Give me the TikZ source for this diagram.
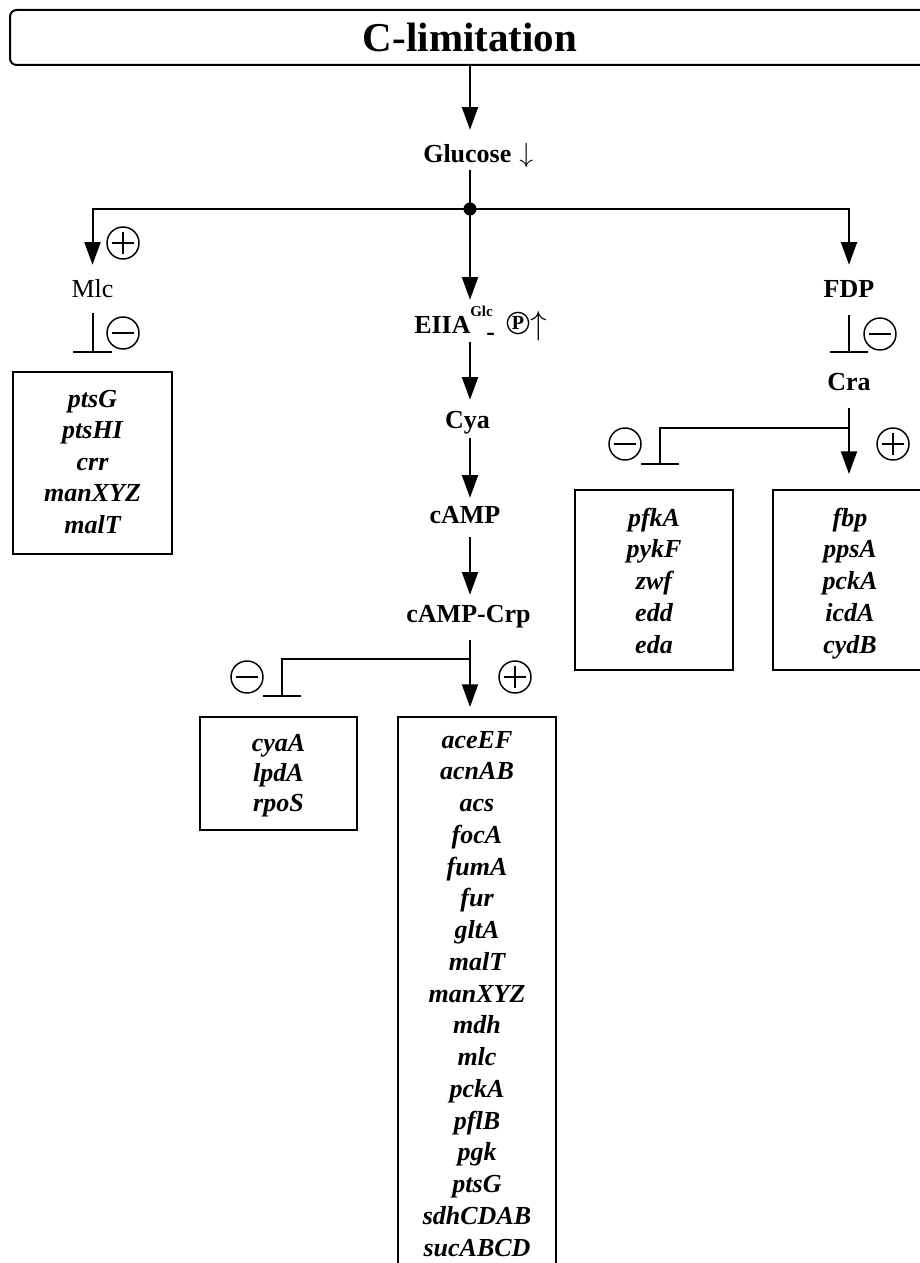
\documentclass[tikz,border=0pt]{standalone}
\usepackage{fontspec}
\setmainfont{Liberation Serif}
\usetikzlibrary{arrows.meta}
\newcommand\lblfont{\fontsize{19.5}{23}\selectfont\bfseries}
\newcommand\regfont{\fontsize{19.5}{23}\selectfont}
\newcommand\genefont{\fontsize{19.5}{23}\selectfont\bfseries\itshape}
\newcommand\ttlfont{\fontsize{30.75}{36}\selectfont\bfseries}
\tikzset{
  ln/.style={line width=1.5pt},
  arr/.style={ln, -{Triangle[length=17pt,width=12pt]}},
  inh/.style={ln, -{Bar[width=29pt]}},
  lbl/.style={font=\lblfont, inner sep=0pt, anchor=base},
  gene/.style={font=\genefont, inner sep=0pt, anchor=base},
  gbox/.style={draw, line width=1.5pt, inner sep=0pt},
  titlebox/.style={draw, line width=1.5pt, rounded corners=5pt, inner sep=0pt,
    minimum width=690pt, minimum height=41.25pt, font=\ttlfont},
  sgn/.style={circle, draw, line width=1.1pt, minimum size=24pt, inner sep=0pt},
  plussign/.style={sgn, path picture={
      \draw[line width=1.1pt] ([xshift=3.5pt]path picture bounding box.west) -- ([xshift=-3.5pt]path picture bounding box.east);
      \draw[line width=1.1pt] ([yshift=-3.5pt]path picture bounding box.north) -- ([yshift=3.5pt]path picture bounding box.south);}},
  minussign/.style={sgn, path picture={
      \draw[line width=1.1pt] ([xshift=3.5pt]path picture bounding box.west) -- ([xshift=-3.5pt]path picture bounding box.east);}},
}
\begin{document}
\begin{tikzpicture}[x=0.75pt, y=-0.75pt]
\useasboundingbox (0,0) rectangle (920,1263);

% title
\node[titlebox] (title) at (470,37.5) {C-limitation};
\coordinate (j) at (470,209);

% glucose
\node[lbl, anchor=base west, text height=24pt, text depth=6pt] (glc) at (423,162) {Glucose\hspace{6pt}$\downarrow$};
\draw[arr] (title.south -| j) -- (glc.north -| j);
\draw[ln] (glc.south -| j) -- (j);
\fill (j) circle (4.9pt);

% Mlc branch
\node[lbl, font=\regfont, text height=24pt, text depth=12pt] (mlc) at (92.5,297) {Mlc};
\draw[arr] (j) -| (mlc.north);
\node[plussign] (p1) at (123,243) {};
\coordinate (mlcbar) at (92.5,353);
\draw[inh] (mlc.south) -- (mlcbar);
\node[minussign] (m1) at (123,333) {};
\node[gbox, minimum width=119.25pt, minimum height=136.5pt] (mlcbox) at (92.5,463) {};
\foreach \g [count=\i from 0] in {ptsG,ptsHI,crr,manXYZ,malT}
  \node[gene] (mg\i) at (92.5,{407+31.5*\i}) {\g};

% central chain
\node[lbl, anchor=base west, text height=24.75pt, text depth=6.75pt] (eiia) at (414,333) {EIIA};
\node[inner sep=0pt, anchor=base west, font=\fontsize{11.25}{13}\selectfont\bfseries] (sup) at (470,316) {Glc};
\node[lbl, anchor=base west] (hyph) at (486,340) {-};
\node[circle, draw, line width=1pt, minimum size=16pt, inner sep=0pt, font=\fontsize{15}{16}\selectfont\bfseries] (phos) at (518,323) {P};
\node[inner sep=0pt, anchor=base, font=\fontsize{27}{30}\selectfont] (up) at (538.5,334) {$\uparrow$};
\draw[arr] (j) -- (eiia.north -| j);

\node[lbl, text height=21pt, text depth=7.5pt] (cya) at (467.5,428) {Cya};
\draw[arr] (eiia.south -| j) -- (cya.north -| j);
\node[lbl, text height=18.75pt, text depth=10.5pt] (camp) at (465,523) {cAMP};
\draw[arr] (cya.south -| j) -- (camp.north -| j);
\node[lbl, text height=20.25pt, text depth=13.5pt] (crp) at (468.5,622) {cAMP-Crp};
\draw[arr] (camp.south -| j) -- (crp.north -| j);

\coordinate (crpTip) at (470,707);
\coordinate (crpBr) at (470,659);
\coordinate (crpInh) at (282,697);
\draw[arr] (crp.south -| j) -- (crpTip);
\draw[inh] (crpBr) -| (crpInh);
\node[minussign] (m2) at (247,677) {};
\node[plussign] (p2) at (515,677) {};

\node[gbox, minimum width=117.75pt, minimum height=84.75pt] (cyabox) at (278.5,773.5) {};
\foreach \g [count=\i from 0] in {cyaA,lpdA,rpoS}
  \node[gene] (cg\i) at (278.5,{751+30*\i}) {\g};

\node[gbox, minimum width=118.5pt, minimum height=429.75pt] (bigbox) at (477,1003.5) {};
\foreach \g [count=\i from 0] in {aceEF,acnAB,acs,focA,fumA,fur,gltA,malT,manXYZ,mdh,mlc,pckA,pflB,pgk,ptsG,sdhCDAB,sucABCD}
  \node[gene] (bg\i) at (477,{748+31.75*\i}) {\g};

% FDP / Cra branch
\node[lbl, text height=24pt, text depth=13.5pt] (fdp) at (849,297) {FDP};
\draw[arr] (j) -| (fdp.north);
\coordinate (fdpbar) at (849,353);
\draw[inh] (fdp.south) -- (fdpbar);
\node[minussign] (m3) at (880,334) {};
\node[lbl, text height=18pt, text depth=13.5pt] (cra) at (849,390) {Cra};

\coordinate (craTip) at (849,474);
\coordinate (craBr) at (849,428);
\coordinate (craInh) at (660,465);
\draw[arr] (cra.south) -- (craTip);
\draw[inh] (craBr) -| (craInh);
\node[minussign] (m4) at (625,444) {};
\node[plussign] (p4) at (893,444) {};

\node[gbox, minimum width=118.5pt, minimum height=135pt] (pfkbox) at (654,580) {};
\foreach \g [count=\i from 0] in {pfkA,pykF,zwf,edd,eda}
  \node[gene] (pg\i) at (654,{526+31.75*\i}) {\g};
\node[gbox, minimum width=118.5pt, minimum height=135pt] (fbpbox) at (852,580) {};
\foreach \g [count=\i from 0] in {fbp,ppsA,pckA,icdA,cydB}
  \node[gene] (fg\i) at (850,{526+31.75*\i}) {\g};
\end{tikzpicture}
\end{document}
